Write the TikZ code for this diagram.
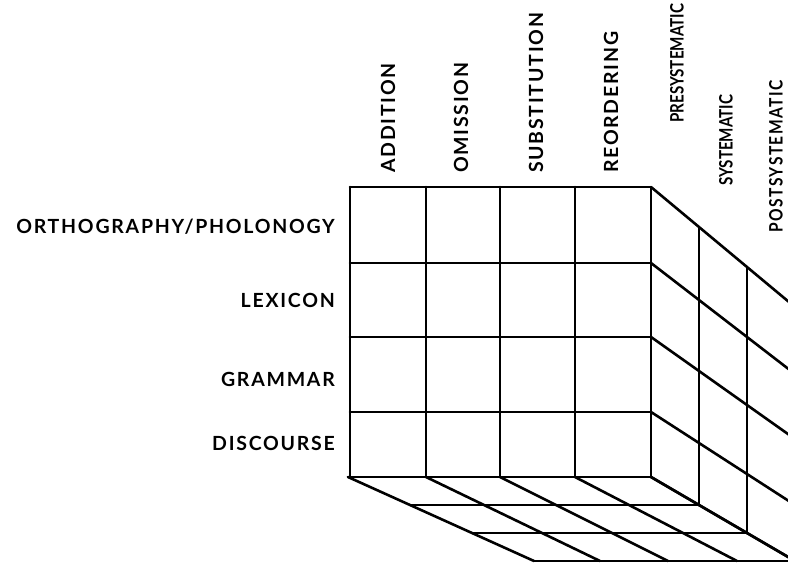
\documentclass[tikz,border=0pt]{standalone}
\usepackage{fontspec}
\setmainfont{Lato}
\newfontfamily\labfont{Lato}[LetterSpace=9]
\newfontfamily\labfontr{Lato}[LetterSpace=0,FakeStretch=0.82]
\newfontfamily\labfontp{Lato}[LetterSpace=8,FakeStretch=0.84]
\begin{document}
\begin{tikzpicture}[x=1pt,y=-1pt,
  gridline/.style={line width=2.6pt,line join=round,line cap=round},
  rowlab/.style={anchor=east,inner sep=0pt,font=\labfont\bfseries\fontsize{19.5}{21}\selectfont},
  collab/.style={rotate=90,anchor=west,inner sep=0pt,font=\labfont\bfseries\fontsize{19.5}{21}\selectfont},
  deplab/.style={rotate=90,anchor=west,inner sep=0pt,font=\labfontr\bfseries\fontsize{18.5}{20}\selectfont},
  deplabp/.style={rotate=90,anchor=west,inner sep=0pt,font=\labfontp\bfseries\fontsize{18.5}{20}\selectfont}]
\useasboundingbox (0,0) rectangle (788,567);
\begin{scope}
\clip (0,0) rectangle (788,567);
% front face
\foreach \x in {350,426,500,575,651} \draw[gridline] (\x,187) -- (\x,477);
\foreach \y in {187,263,337,412} \draw[gridline] (350,\y) -- (651,\y);
\draw[gridline] (348,477) -- (651,477);
% right face
\foreach \y/\s in {187/40,263/37,337/34,412/31,477/28}
  \draw[gridline] (651,\y) -- (795,{\y+3*\s});
\foreach \d in {1,2,3}
  \draw[gridline] ({651+48*\d},{187+40*\d}) -- ({651+48*\d},{477+28*\d});
% bottom face
\foreach \x/\dx in {348/62,426/58,500/56,575/54,651/48}
  \draw[gridline] (\x,477) -- ({\x+3*\dx},561);
\foreach \d in {1,2,3}
  \draw[gridline] ({348+62*\d},{477+28*\d}) -- ({651+48*\d},{477+28*\d});
\end{scope}
% row labels
\node[rowlab] (ortho) at (335,227) {ORTHOGRAPHY/PHOLONOGY};
\node[rowlab] (lex) at (335,300) {LEXICON};
\node[rowlab] (gram) at (335,379) {GRAMMAR};
\node[rowlab] (disc) at (335,443) {DISCOURSE};
% column labels
\node[collab] (add) at (388,173) {ADDITION};
\node[collab] (omi) at (461,173) {OMISSION};
\node[collab] (sub) at (536,173) {SUBSTITUTION};
\node[collab] (reo) at (611,173) {REORDERING};
% depth labels
\node[deplab] (pre) at (677,123) {PRESYSTEMATIC};
\node[deplab] (sys) at (726,186) {SYSTEMATIC};
\node[deplabp] (post) at (776,233) {POSTSYSTEMATIC};
\end{tikzpicture}
\end{document}
